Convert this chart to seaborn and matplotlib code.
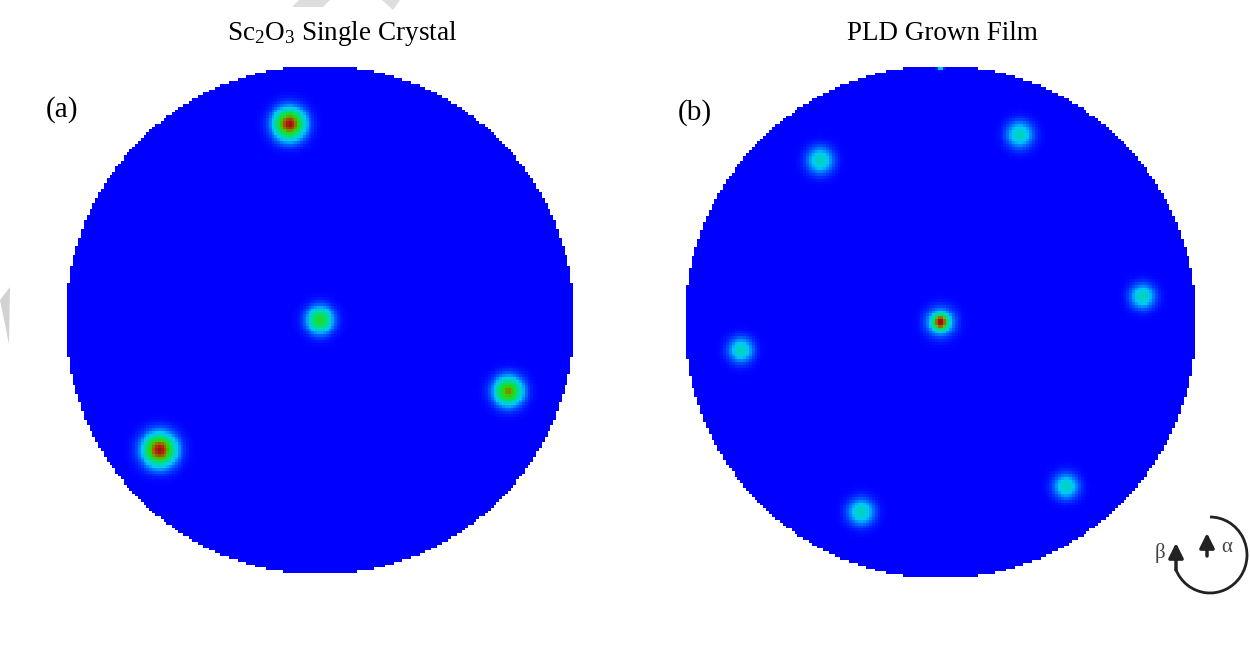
import numpy as np
import matplotlib
matplotlib.use("Agg")
import matplotlib.pyplot as plt
import seaborn as sns
from matplotlib.colors import LinearSegmentedColormap
from matplotlib.patches import Arc, Polygon

# pole figure spots, positions in units of the circle radius (y downwards)
crystal_x = [-0.12, 0.0, 0.74, -0.63]
crystal_y = [-0.77, 0.0, 0.28, 0.51]
crystal_peak = [1.0, 0.64, 0.8, 1.0]
crystal_width = [0.040, 0.034, 0.037, 0.042]

film_x = [0.0, 0.0, 0.31, -0.47, 0.79, -0.78, 0.49, -0.31, 0.0]
film_y = [0.0, 0.0, -0.73, -0.63, -0.10, 0.11, 0.64, 0.74, -1.0]
film_peak = [0.38, 0.8, 0.38, 0.38, 0.38, 0.38, 0.38, 0.38, 1.0]
film_width = [0.036, 0.018, 0.034, 0.034, 0.032, 0.032, 0.032, 0.034, 0.008]

titles = ["Sc$_2$O$_3$ Single Crystal", "PLD Grown Film"]
panel_labels = ["(a)", "(b)"]

N = 180

cmap = LinearSegmentedColormap.from_list(
    "pole", [(0.0, "#0000ff"), (0.25, "#00c8ff"), (0.5, "#00e070"),
             (0.7, "#30d800"), (0.85, "#b05a00"), (1.0, "#a01010")])


def pole_grid(xs, ys, peaks, widths):
    c = np.linspace(-1, 1, N)
    gx, gy = np.meshgrid(c, c)
    z = np.zeros_like(gx)
    for x, y, p, w in zip(xs, ys, peaks, widths):
        z += p * np.exp(-((gx - x) ** 2 + (gy - y) ** 2) / (2 * w ** 2))
    mask = gx ** 2 + gy ** 2 > 1.0
    return np.clip(z, 0, 1), mask


plt.rcParams["font.family"] = ["Liberation Serif", "DejaVu Serif"]
plt.rcParams["mathtext.fontset"] = "custom"
plt.rcParams["mathtext.rm"] = "Liberation Serif"
plt.rcParams["mathtext.it"] = "Liberation Serif:italic"

fig = plt.figure(figsize=(12.5, 6.62), dpi=100)

positions = [[0.0512, 0.1299, 0.4096, 0.7734],
             [0.5464, 0.1239, 0.4120, 0.7794]]
data = [(crystal_x, crystal_y, crystal_peak, crystal_width),
        (film_x, film_y, film_peak, film_width)]

for pos, d in zip(positions, data):
    ax = fig.add_axes(pos)
    z, mask = pole_grid(*d)
    sns.heatmap(z, mask=mask, cmap=cmap, vmin=0, vmax=1, cbar=False,
                xticklabels=False, yticklabels=False, ax=ax)
    ax.axis("off")

# titles and panel labels
fig.text(342 / 1250, 1 - 33 / 662, titles[0], ha="center", va="center", fontsize=19.5)
fig.text(942 / 1250, 1 - 33 / 662, titles[1], ha="center", va="center", fontsize=19.5)
fig.text(62 / 1250, 1 - 110 / 662, panel_labels[0], ha="center", va="center", fontsize=21)
fig.text(695 / 1250, 1 - 113 / 662, panel_labels[1], ha="center", va="center", fontsize=21)

# rotation symbol (alpha / beta) in the lower right corner
over = fig.add_axes([0, 0, 1, 1], facecolor="none")
over.set_xlim(0, 1250)
over.set_ylim(662, 0)
over.axis("off")
over.add_patch(Arc((1210, 555), 74, 76, theta1=-90, theta2=158, color="#222222", lw=2))
head = dict(arrowstyle="-|>", mutation_scale=22, color="#222222", lw=2.5,
            shrinkA=0, shrinkB=0)
over.annotate("", xy=(1207, 533), xytext=(1207, 556), arrowprops=head)
over.annotate("", xy=(1176, 543), xytext=(1176, 570), arrowprops=head)
over.text(1160, 553, "β", fontsize=15, color="#444444", ha="center", va="center")
over.text(1227, 547, "α", fontsize=15, color="#444444", ha="center", va="center")

# faint watermark fragments
over.add_patch(Polygon([[0, 300], [10, 287], [9, 344]], closed=True,
                       color="#d2d2d2", lw=0))
over.add_patch(Polygon([[292, 7], [299, 0], [330, 0], [323, 7]], closed=True,
                       color="#dddddd", lw=0))
over.add_patch(Polygon([[382, 0], [400, 0], [393, 10]], closed=True,
                       color="#dddddd", lw=0))

fig.savefig("out.png", dpi=100, facecolor="white")
